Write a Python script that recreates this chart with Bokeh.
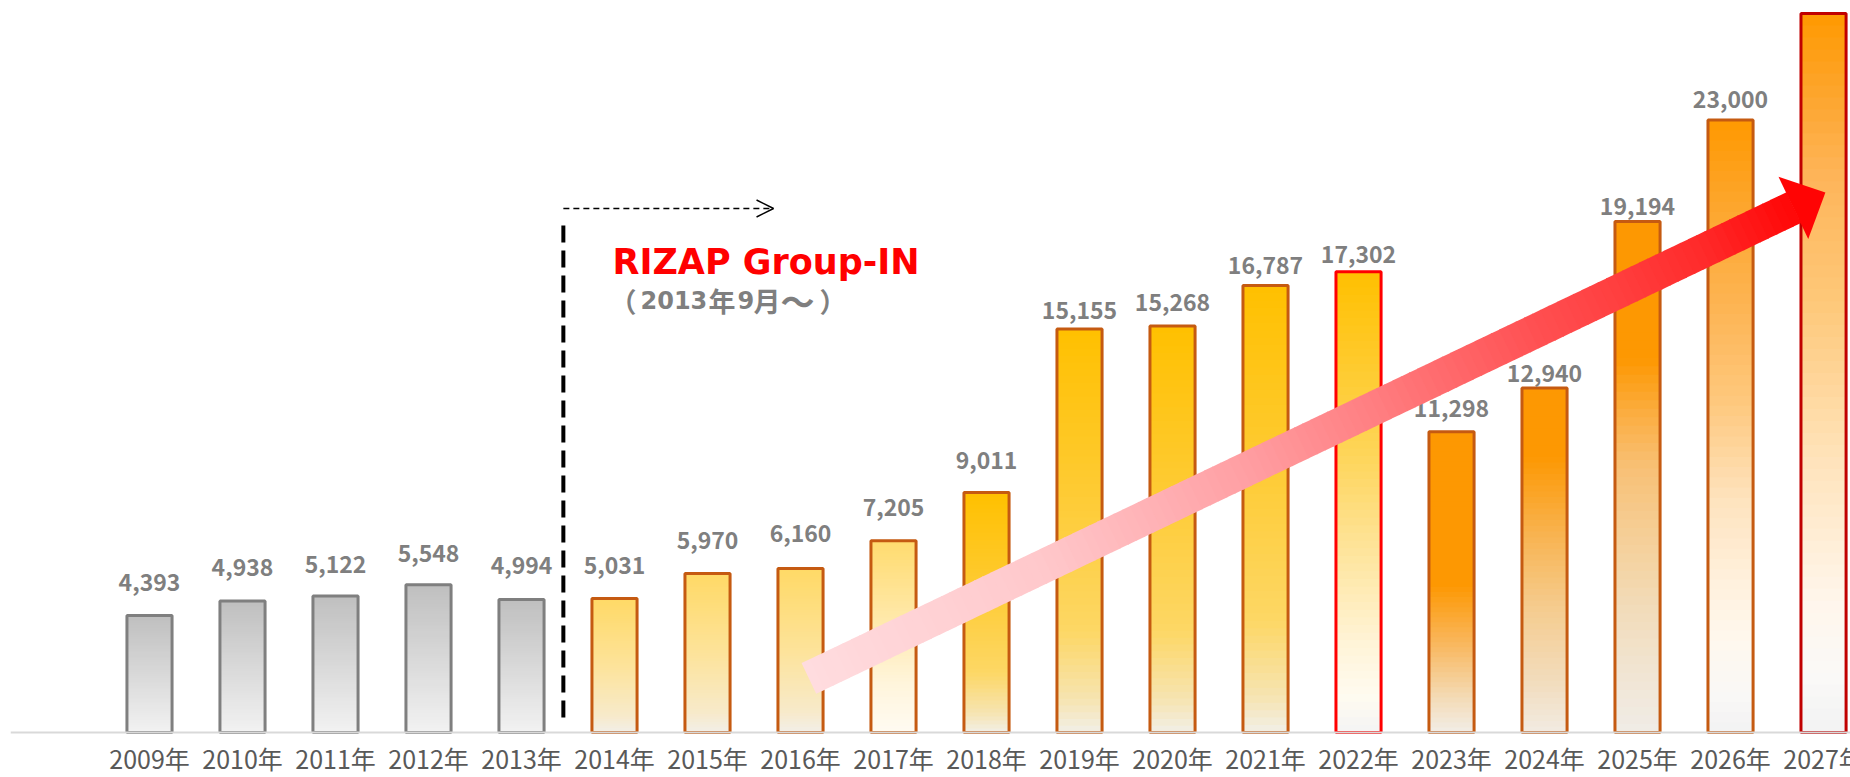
from bokeh.plotting import figure
from bokeh.models import Arrow, OpenHead, Span
from bokeh.core.properties import value
from bokeh.embed import file_html
from bokeh.resources import INLINE
import math

# ---------------- data ----------------
years = ["2009年", "2010年", "2011年", "2012年", "2013年", "2014年", "2015年",
         "2016年", "2017年", "2018年", "2019年", "2020年", "2021年", "2022年",
         "2023年", "2024年", "2025年", "2026年", "2027年"]
sales = [4393, 4938, 5122, 5548, 4994, 5031, 5970, 6160, 7205, 9011,
         15155, 15268, 16787, 17302, 11298, 12940, 19194, 23000, 27000]
value_labels = [f"{v:,}" for v in sales]

# ---------------- styles ----------------
fill_style = (["gray"] * 5 + ["light"] * 3 + ["light2"] + ["gold"] * 4 +
              ["gold_hi", "orange_a", "orange_b", "orange_c", "orange_d", "orange_e"])
edge_color = ["#7f7f7f"] * 5 + ["#c55a11"] * 8 + ["#ff0000"] + ["#c55a11"] * 4 + ["#c00000"]
label_gap_px = [25, 25, 23, 23, 26, 25, 25, 26, 25, 24, 10, 15, 11, 9, 15, 6, 6, 12, 25]

GRADIENTS = {
    "gray": [(0, "#f2f2f2"), (1, "#bfbfbf")],
    "light": [(0, "#f2efe8"), (0.12, "#f7eacb"), (0.5, "#fde39a"), (1, "#ffd966")],
    "light2": [(0, "#fffbf2"), (0.25, "#fff5dc"), (0.55, "#ffeab0"), (1, "#ffdb6e")],
    "gold": [(0, "#f2efe6"), (0.08, "#f6e4b2"), (0.25, "#fdd765"), (0.6, "#fecb33"), (1, "#ffc000")],
    "gold_hi": [(0, "#f4f4f4"), (0.08, "#fffbf0"), (0.2, "#fff3d6"), (0.45, "#fee08a"),
                (0.6, "#fed55a"), (1, "#ffc000")],
    "orange_a": [(0, "#f2ede6"), (0.11, "#f3dcb8"), (0.29, "#f9b860"), (0.49, "#fd9802"), (1, "#fd9802")],
    "orange_b": [(0, "#f2ebe2"), (0.15, "#f2dcbc"), (0.36, "#f5cc8f"), (0.56, "#f8b555"),
                 (0.8, "#fd9802"), (1, "#fd9802")],
    "orange_c": [(0, "#f0ece6"), (0.1, "#f1e6d6"), (0.24, "#f2dcba"), (0.38, "#f5cf98"),
                 (0.52, "#f8c075"), (0.625, "#fbad40"), (0.73, "#fd9802"), (1, "#fd9802")],
    "orange_d": [(0, "#f2f2f2"), (0.06, "#f9f8f6"), (0.15, "#fff8ee"), (0.25, "#fff0dc"),
                 (0.38, "#fee3be"), (0.54, "#fec87d"), (0.70, "#fdb452"), (0.87, "#fda52a"),
                 (1, "#ff9900")],
    "orange_e": [(0, "#f2f2f2"), (0.08, "#faf9f7"), (0.18, "#fff6ec"), (0.39, "#ffe2b8"),
                 (0.6, "#fec878"), (0.77, "#feb55a"), (0.88, "#fda630"), (1, "#ff9900")],
}
ARROW_GRADIENT = [(0, "#ffdcdf"), (0.14, "#ffd0d3"), (0.23, "#ffc8cb"), (0.425, "#ffa0a4"),
                  (0.56, "#ff7d80"), (0.72, "#ff4f51"), (0.8, "#ff3e3e"), (0.88, "#ff2a2a"),
                  (0.96, "#ff0a0a"), (1, "#ff0000")]


def hex2rgb(h):
    return tuple(int(h[i:i + 2], 16) for i in (1, 3, 5))


def grad_color(stops, t):
    t = min(max(t, 0.0), 1.0)
    for (p0, c0), (p1, c1) in zip(stops, stops[1:]):
        if t <= p1:
            f = 0.0 if p1 == p0 else (t - p0) / (p1 - p0)
            a, b = hex2rgb(c0), hex2rgb(c1)
            return "#%02x%02x%02x" % tuple(round(a[k] + (b[k] - a[k]) * f) for k in range(3))
    return stops[-1][1]


# ---------------- figure ----------------
W, H = 1850, 777
LEFT_PAD = 10
X_START, X_END = -1.4946, 18.290
Y_START, Y_END = -1690, 27490
SX = (W - LEFT_PAD) / (X_END - X_START)   # px per x unit
SY = H / (Y_END - Y_START)                # px per y unit

p = figure(width=W, height=H, x_range=(X_START, X_END), y_range=(Y_START, Y_END),
           x_axis_type=None, y_axis_type=None, toolbar_location=None,
           output_backend="svg", min_border_left=LEFT_PAD, min_border_right=0,
           min_border_top=0, min_border_bottom=0, outline_line_color=None,
           background_fill_color="white", border_fill_color="white")

BAR_W = 0.485
N = 60
ql, qr, qb, qt, qc = [], [], [], [], []
for i, v in enumerate(sales):
    stops = GRADIENTS[fill_style[i]]
    for k in range(N):
        f0, f1 = k / N, (k + 1) / N
        ql.append(i - BAR_W / 2)
        qr.append(i + BAR_W / 2)
        qb.append(v * f0)
        qt.append(min(v, v * f1 + 1.0 / SY))
        qc.append(grad_color(stops, (f0 + f1) / 2))
p.quad(left=ql, right=qr, bottom=qb, top=qt, fill_color=qc, line_color=None)

xs = list(range(len(sales)))
p.quad(left=[x - BAR_W / 2 for x in xs], right=[x + BAR_W / 2 for x in xs],
       bottom=[0] * len(sales), top=sales, fill_color=None, line_color=edge_color,
       line_width=3)

# baseline
p.add_layout(Span(location=0, dimension="width", line_color="#d9d9d9", line_width=2))

# value labels (centred vertically on the digits); labels above the visible top are left out
VAL_FS = 23
lab_x, lab_y, lab_t = [], [], []
for i, (v, g) in enumerate(zip(sales, label_gap_px)):
    y = v + (g + 0.37 * VAL_FS) / SY
    if y + 0.37 * VAL_FS / SY < Y_END:
        lab_x.append(i)
        lab_y.append(y)
        lab_t.append(value_labels[i])
p.text(x=lab_x, y=lab_y, text=lab_t, text_font=value("Noto Sans CJK JP"),
       text_font_style="bold", text_font_size=f"{VAL_FS}px", text_color="#7f7f7f",
       text_align="center", text_baseline="middle")

# year labels
p.text(x=xs, y=[-8 / SY] * len(xs), text=years, text_font=value("Noto Sans CJK JP"),
       text_font_size="25px", text_color="#595959", text_align="center",
       text_baseline="top")

# group-in markers
p.segment(x0=[4.45], y0=[563], x1=[4.45], y1=[19341], line_color="black",
          line_width=4, line_dash="17 8")
p.add_layout(Arrow(x_start=4.45, y_start=19679, x_end=6.71, y_end=19679,
                   line_color="black", line_width=1.5, line_dash="6 4",
                   end=OpenHead(size=17, line_width=1.5, line_color="black")))
p.text(x=[4.978], y=[17688], text=["RIZAP Group-IN"], text_font=value("DejaVu Sans"),
       text_font_style="bold", text_font_size="35px", text_color="#ff0000",
       text_align="left", text_baseline="middle")

# "（2013年9月～）" set piece by piece: Latin digits and CJK glyphs in separate fonts
SUB_Y = 16224
SUB_PARTS = [("（", 636, "right", "Noto Sans CJK JP", "27px"),
             ("2013", 640, "left", "DejaVu Sans", "24px"),
             ("年", 708, "left", "Noto Sans CJK JP", "27px"),
             ("9", 737, "left", "DejaVu Sans", "24px"),
             ("月", 753, "left", "Noto Sans CJK JP", "27px"),
             ("～", 780, "left", "Noto Sans CJK JP", "34px"),
             ("）", 819, "left", "Noto Sans CJK JP", "27px")]
for txt, px_left, align, font, size in SUB_PARTS:
    p.text(x=[X_START + (px_left - LEFT_PAD) / SX], y=[SUB_Y], text=[txt],
           text_font=value(font), text_font_style="bold", text_font_size=size,
           text_color="#7f7f7f", text_align=align, text_baseline="middle")

# big growth arrow (gradient, drawn as slices)
ARROW_START = (7.09, 2030)
ARROW_TIP = (18.02, 20280)
SHAFT_HW, HEAD_HW, HEAD_LEN = 17, 34.5, 35
sx0, sy0 = ARROW_START[0] * SX, ARROW_START[1] * SY
tx, ty = ARROW_TIP[0] * SX, ARROW_TIP[1] * SY
L = math.hypot(tx - sx0, ty - sy0)
ux, uy = (tx - sx0) / L, (ty - sy0) / L
nx, ny = -uy, ux
shaft_len = L - HEAD_LEN
M = 120
pxs, pys, pcs = [], [], []


def pt(d, w):
    return ((sx0 + ux * d + nx * w) / SX, (sy0 + uy * d + ny * w) / SY)


for k in range(M):
    d0 = shaft_len * k / M
    d1 = min(shaft_len, shaft_len * (k + 1) / M + 1.0)
    corners = [pt(d0, SHAFT_HW), pt(d1, SHAFT_HW), pt(d1, -SHAFT_HW), pt(d0, -SHAFT_HW)]
    pxs.append([c[0] for c in corners])
    pys.append([c[1] for c in corners])
    pcs.append(grad_color(ARROW_GRADIENT, ((d0 + d1) / 2) / L))
head = [pt(shaft_len - 0.5, HEAD_HW), pt(L, 0), pt(shaft_len - 0.5, -HEAD_HW)]
pxs.append([c[0] for c in head])
pys.append([c[1] for c in head])
pcs.append(grad_color(ARROW_GRADIENT, 0.985))
p.patches(xs=pxs, ys=pys, fill_color=pcs, line_color=None)

open("out.html", "w").write(file_html(p, INLINE))
